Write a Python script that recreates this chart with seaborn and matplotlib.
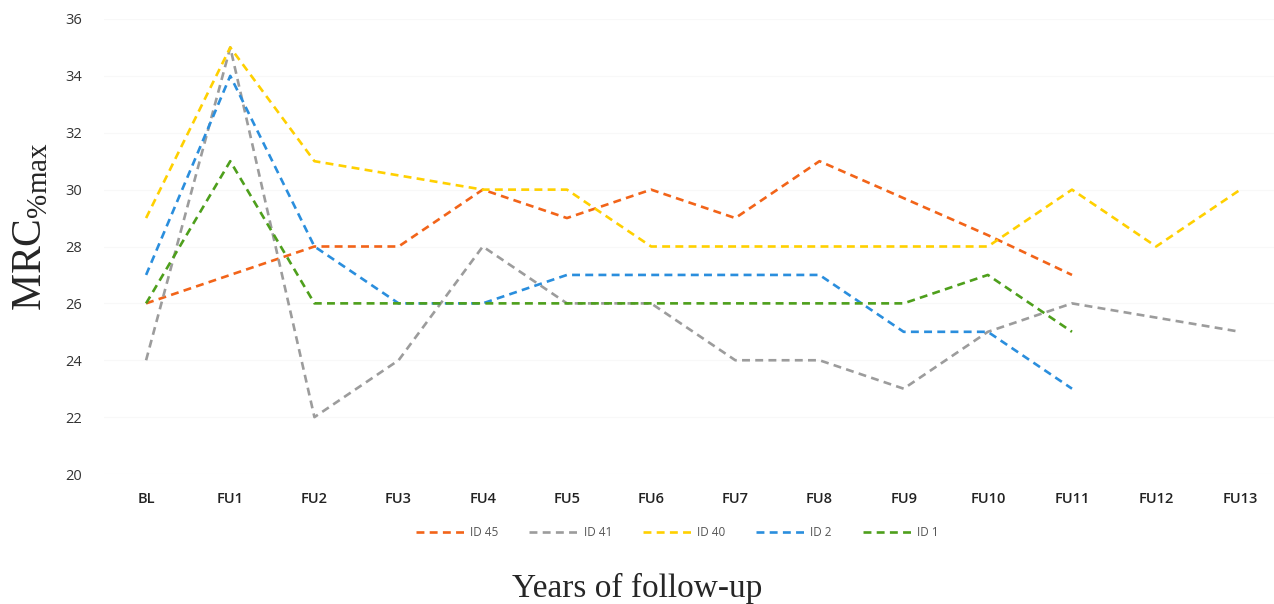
import matplotlib
matplotlib.use("Agg")
import matplotlib.pyplot as plt
import seaborn as sns
import pandas as pd
import numpy as np

# visits on the x axis
visits = ["BL", "FU1", "FU2", "FU3", "FU4", "FU5", "FU6", "FU7",
          "FU8", "FU9", "FU10", "FU11", "FU12", "FU13"]

# MRC %max per subject
id45 = [26, 27, 28, 28, 30, 29, 30, 29, 31, 29.7, 28.4, 27]
id41 = [24, 35, 22, 24, 28, 26, 26, 24, 24, 23, 25, 26, 25.5, 25]
id40 = [29, 35, 31, 30.5, 30, 30, 28, 28, 28, 28, 28, 30, 28, 30]
id2 = [27, 34, 28, 26, 26, 27, 27, 27, 27, 25, 25, 23]
id1 = [26, 31, 26, 26, 26, 26, 26, 26, 26, 26, 27, 25]

series = {"ID 45": id45, "ID 41": id41, "ID 40": id40, "ID 2": id2, "ID 1": id1}
colors = {"ID 45": "#F26419", "ID 41": "#9C9C9C", "ID 40": "#FFD000",
          "ID 2": "#2A8EDD", "ID 1": "#4E9F1C"}

rows = []
for name, vals in series.items():
    for v, val in zip(visits, vals):
        rows.append({"visit": v, "mrc": val, "id": name})
df = pd.DataFrame(rows)
df["pos"] = df["visit"].map({v: i for i, v in enumerate(visits)})

sns.set_style("white")
plt.rcParams["font.family"] = ["Open Sans", "DejaVu Sans"]

fig = plt.figure(figsize=(12.74, 6.04), dpi=100)
ax = fig.add_axes([104 / 1274, 1 - 474 / 604, (1274 - 104) / 1274, (474 - 19) / 604])

sns.lineplot(data=df, x="pos", y="mrc", hue="id", hue_order=list(series),
             palette=colors, linewidth=1.9, linestyle="--", dashes=False,
             sort=False, legend=False, ax=ax)
for ln in ax.lines:
    ln.set_dashes((3, 2))

ax.set_xlim(-0.5, 13.4)
ax.set_ylim(20, 36)
ax.set_yticks(np.arange(20, 37, 2))
ax.set_xticks(range(len(visits)))
ax.set_xticklabels(visits, fontsize=10.5, fontweight="semibold", color="#222222")
ax.tick_params(axis="y", labelsize=10.5, labelcolor="#333333", pad=16, length=0)
ax.tick_params(axis="x", pad=13, length=0)
ax.grid(axis="y", color="#F8F8F8", linewidth=0.8)
ax.set_axisbelow(True)
for s in ax.spines.values():
    s.set_visible(False)
ax.set_xlabel("")
ax.set_ylabel("")

ax.legend(handles=ax.lines, labels=list(series), loc="center",
          bbox_to_anchor=(0.49, -0.128), ncol=5, frameon=False, fontsize=8.5,
          handlelength=4.2, columnspacing=2.6, handletextpad=0.4,
          labelcolor="#555555")

fig.text(0.5, 0.025, "Years of follow-up", ha="center", va="center",
         fontsize=24, family="Liberation Serif")
fig.text(0.024, 0.625, r"MRC$_{\mathregular{\%max}}$", ha="center", va="center",
         rotation=90, fontsize=30, family="Liberation Serif")

fig.savefig("out.png", dpi=100)
